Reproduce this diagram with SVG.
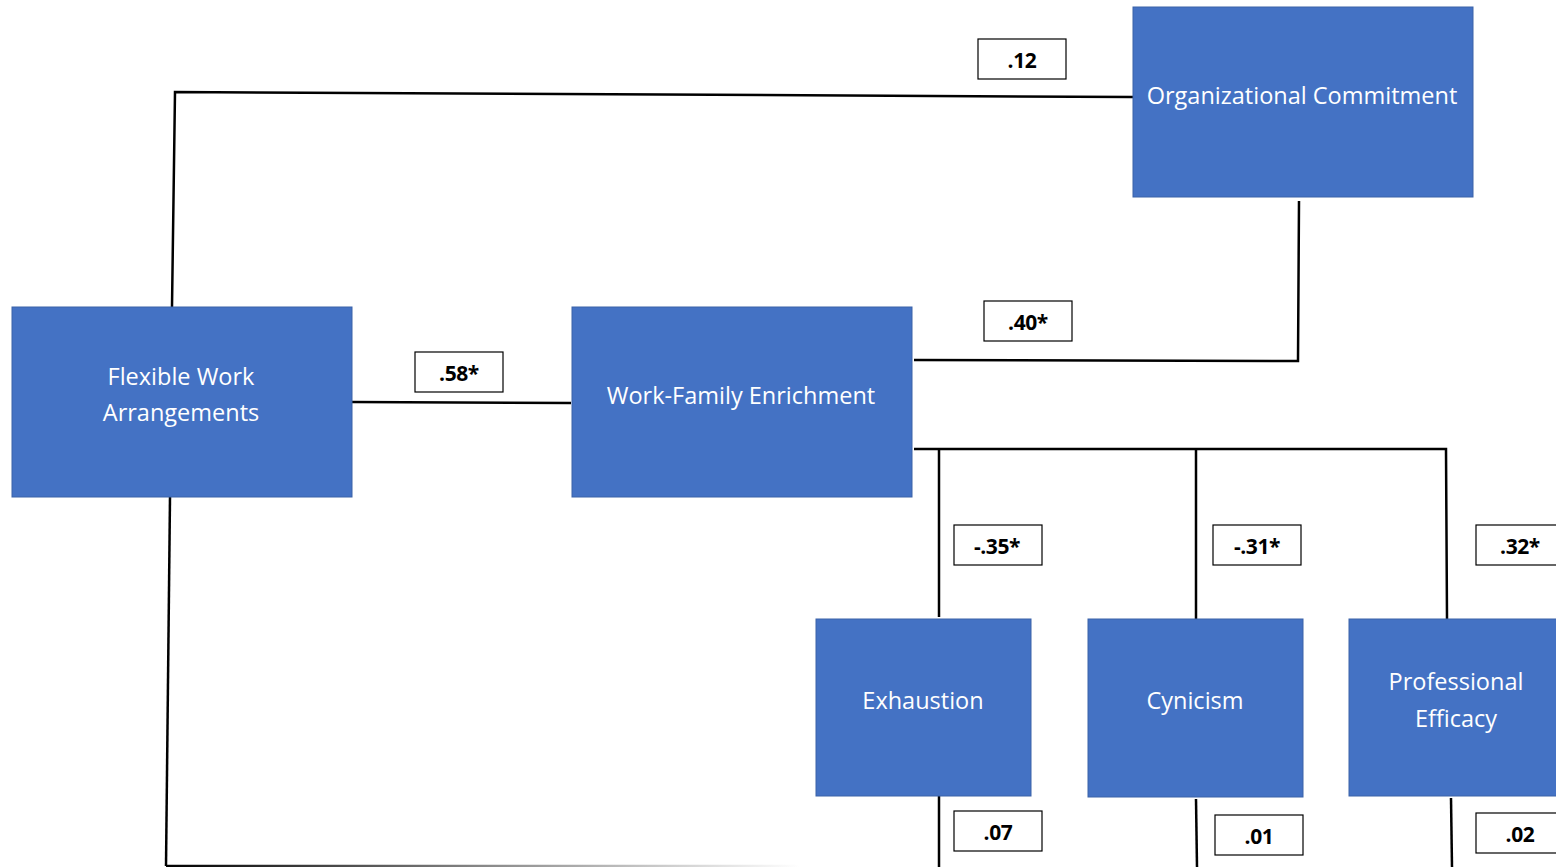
<svg xmlns="http://www.w3.org/2000/svg" width="1556" height="867" viewBox="0 0 1556 867">
<style>
.node{fill:#4472C4;stroke:#3A62A8;stroke-width:1}
.nt{font-family:"Open Sans","Noto Sans",sans-serif;font-size:23.5px;fill:#ffffff;text-anchor:middle;dominant-baseline:central}
.lb{fill:#ffffff;stroke:#000;stroke-width:1.2}
.lt{font-family:"Open Sans","Liberation Sans",sans-serif;font-size:21px;font-weight:bold;fill:#000;text-anchor:middle;dominant-baseline:central;letter-spacing:-0.4px}
.c{fill:none;stroke:#000;stroke-width:2.5}
</style>
<defs>
<linearGradient id="fade" x1="166" y1="0" x2="800" y2="0" gradientUnits="userSpaceOnUse">
<stop offset="0" stop-color="#000"/>
<stop offset="0.5" stop-color="#888"/>
<stop offset="1" stop-color="#fff"/>
</linearGradient>
</defs>
<rect width="1556" height="867" fill="#ffffff"/>
<g id="connectors">
<polyline class="c" points="172,307 175,92 1133,97"/>
<polyline class="c" points="1299,201 1298,361 914,360"/>
<line class="c" x1="352" y1="402" x2="571" y2="403"/>
<polyline class="c" points="914,449 1446,449 1447,619"/>
<line class="c" x1="939" y1="449" x2="939" y2="617"/>
<line class="c" x1="1196" y1="449" x2="1196" y2="619"/>
<line class="c" x1="939" y1="796" x2="939" y2="867"/>
<line class="c" x1="1196" y1="799" x2="1197" y2="867"/>
<line class="c" x1="1451" y1="798" x2="1452" y2="867"/>
<line class="c" x1="170" y1="497" x2="166" y2="866"/>
<line x1="166" y1="866" x2="800" y2="866" stroke="url(#fade)" stroke-width="2.5"/>
</g>
<g id="organizational-commitment">
<rect class="node" x="1133" y="7" width="340" height="190"/>
<text class="nt" x="1302" y="95">Organizational Commitment</text>
</g>
<g id="flexible-work-arrangements">
<rect class="node" x="12" y="307" width="340" height="190"/>
<text class="nt" x="181" y="376">Flexible Work</text>
<text class="nt" x="181" y="412">Arrangements</text>
</g>
<g id="work-family-enrichment">
<rect class="node" x="572" y="307" width="340" height="190"/>
<text class="nt" x="741" y="395">Work-Family Enrichment</text>
</g>
<g id="exhaustion">
<rect class="node" x="816" y="619" width="215" height="177"/>
<text class="nt" x="923" y="700">Exhaustion</text>
</g>
<g id="cynicism">
<rect class="node" x="1088" y="619" width="215" height="178"/>
<text class="nt" x="1195" y="700">Cynicism</text>
</g>
<g id="professional-efficacy">
<rect class="node" x="1349" y="619" width="215" height="177"/>
<text class="nt" x="1456" y="681">Professional</text>
<text class="nt" x="1456" y="718">Efficacy</text>
</g>
<g id="labels">
<rect class="lb" x="978" y="39" width="88" height="40"/>
<text class="lt" x="1022" y="60">.12</text>
<rect class="lb" x="984" y="301" width="88" height="40"/>
<text class="lt" x="1028" y="322">.40*</text>
<rect class="lb" x="415" y="352" width="88" height="40"/>
<text class="lt" x="459" y="373">.58*</text>
<rect class="lb" x="954" y="525" width="88" height="40"/>
<text class="lt" x="997" y="546">-.35*</text>
<rect class="lb" x="1213" y="525" width="88" height="40"/>
<text class="lt" x="1257" y="546">-.31*</text>
<rect class="lb" x="1476" y="525" width="88" height="40"/>
<text class="lt" x="1520" y="546">.32*</text>
<rect class="lb" x="954" y="811" width="88" height="40"/>
<text class="lt" x="998" y="832">.07</text>
<rect class="lb" x="1215" y="815" width="88" height="40"/>
<text class="lt" x="1259" y="836">.01</text>
<rect class="lb" x="1476" y="813" width="88" height="40"/>
<text class="lt" x="1520" y="834">.02</text>
</g>
</svg>
